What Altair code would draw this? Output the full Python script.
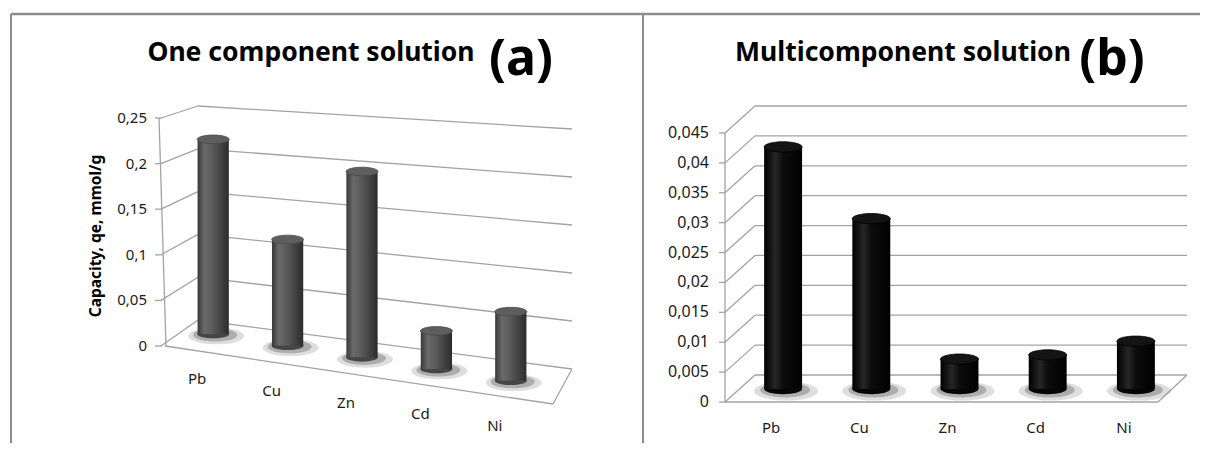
import altair as alt
import pandas as pd

# ---------------- data ----------------
metals = ["Pb", "Cu", "Zn", "Cd", "Ni"]
one_component = [0.22, 0.12, 0.21, 0.043, 0.078]
multi_component = [0.0405, 0.0285, 0.005, 0.0057, 0.008]
ticks_a = [0.0, 0.05, 0.10, 0.15, 0.20, 0.25]
tick_labels_a = ["0", "0,05", "0,1", "0,15", "0,2", "0,25"]
ticks_b = [0.0, 0.005, 0.01, 0.015, 0.02, 0.025, 0.03, 0.035, 0.04, 0.045]
tick_labels_b = ["0", "0,005", "0,01", "0,015", "0,02", "0,025", "0,03", "0,035", "0,04", "0,045"]
titles = ["One component solution", "Multicomponent solution"]
tags = ["(a)", "(b)"]
y_title_a = "Capacity, qe, mmol/g"

FONT = "Noto Sans"
GRID = "#a3a3a3"
FRAME = "#8c8c8c"
ELL = "M -1 0 A 1 0.27 0 1 0 1 0 A 1 0.27 0 1 0 -1 0 Z"
SHAD = "M -1 0 A 1 0.3 0 1 0 1 0 A 1 0.3 0 1 0 -1 0 Z"
one = pd.DataFrame({"k": [0]})


def grad(stops):
    return alt.LinearGradient(
        gradient="linear", x1=0, x2=1, y1=0, y2=0,
        stops=[alt.GradientStop(color=c, offset=o) for o, c in stops],
    )


# ---------------- panel (a) ----------------
ya = alt.Scale(domain=[0, 0.25], range=[338, 110], nice=False, zero=False)
xa = alt.Scale(domain=metals, range=[168, 540], paddingInner=0.58, paddingOuter=0.29)
dfa = pd.DataFrame({"metal": metals, "q": one_component, "i": list(range(len(metals)))})
ta = pd.DataFrame({"t": ticks_a, "label": tick_labels_a})

ga = (alt.Chart(ta)
      .transform_calculate(vl="(26 + 856*datum.t)/912")
      .transform_calculate(vr="(-23 + 960*datum.t)/912"))
back_a = ga.mark_rule(color=GRID, strokeWidth=1.3).encode(
    x=alt.value(190), x2=alt.value(564),
    y=alt.Y("vl:Q", scale=ya, axis=None), y2="vr:Q")
diag_a = ga.mark_rule(color=GRID, strokeWidth=1.3).encode(
    x=alt.value(153), x2=alt.value(190),
    y=alt.Y("t:Q", scale=ya, axis=None), y2="vl:Q")
tick_a = ga.mark_rule(color=GRID, strokeWidth=1.3).encode(
    x=alt.value(147), x2=alt.value(154),
    y=alt.Y("t:Q", scale=ya, axis=None), y2="t:Q")
lab_a = ga.mark_text(font=FONT, fontSize=15, align="right", baseline="middle", color="#1a1a1a").encode(
    x=alt.value(139), y=alt.Y("t:Q", scale=ya, axis=None), text="label:N")
axis_a = alt.Chart(one).mark_rule(color=GRID, strokeWidth=1.3).encode(
    x=alt.value(151), x2=alt.value(158),
    y=alt.Y(datum=0.25, scale=ya, axis=None), y2=alt.Y2(datum=0))
floor_front_a = alt.Chart(one).mark_rule(color=GRID, strokeWidth=1.3).encode(
    x=alt.value(157), x2=alt.value(545),
    y=alt.Y(datum=0, scale=ya, axis=None), y2=alt.Y2(datum=-0.0636))
floor_right_a = alt.Chart(one).mark_rule(color=GRID, strokeWidth=1.3).encode(
    x=alt.value(545), x2=alt.value(564),
    y=alt.Y(datum=-0.0636, scale=ya, axis=None), y2=alt.Y2(datum=-0.0252))

ba = (alt.Chart(dfa)
      .transform_calculate(base="0.0132 - 0.0128*datum.i")
      .transform_calculate(top="datum.base + 0.97*datum.q")
      .transform_calculate(lab="-0.0362 - 0.01294*datum.i"))
xenc_a = alt.X("metal:N", scale=xa, axis=None)
shadow_a1 = ba.mark_point(shape=SHAD, filled=True, size=56 ** 2, color="#a0a0a0", opacity=0.35,
                          strokeWidth=0, xOffset=3, yOffset=2).encode(
    x=xenc_a, y=alt.Y("base:Q", scale=ya, axis=None))
shadow_a2 = ba.mark_point(shape=SHAD, filled=True, size=44 ** 2, color="#707070", opacity=0.45,
                          strokeWidth=0, xOffset=2, yOffset=1).encode(
    x=xenc_a, y=alt.Y("base:Q", scale=ya, axis=None))
bottom_a = ba.mark_point(shape=ELL, filled=True, size=32 ** 2, color="#454545", opacity=1,
                         strokeWidth=0).encode(
    x=xenc_a, y=alt.Y("base:Q", scale=ya, axis=None))
bar_a = ba.mark_bar(color=grad([(0, "#383838"), (0.22, "#6a6a6a"), (0.45, "#5c5c5c"), (1, "#2c2c2c")])).encode(
    x=xenc_a, y=alt.Y("top:Q", scale=ya, axis=None), y2="base:Q")
cap_a = ba.mark_point(shape=ELL, filled=True, size=32 ** 2, color="#5e5e5e", opacity=1,
                      stroke="#4a4a4a", strokeWidth=0.8).encode(
    x=xenc_a, y=alt.Y("top:Q", scale=ya, axis=None))
cat_a = ba.mark_text(font=FONT, fontSize=15, color="#1a1a1a", baseline="middle", dx=-16).encode(
    x=xenc_a, y=alt.Y("lab:Q", scale=ya, axis=None), text="metal:N")

title_a = alt.Chart(one).mark_text(font=FONT, fontSize=26.5, fontWeight="bold", color="#000").encode(
    x=alt.value(303), y=alt.value(45), text=alt.value(titles[0]))
tag_a = alt.Chart(one).mark_text(font=FONT, fontSize=50, fontWeight="bold", color="#000").encode(
    x=alt.value(513), y=alt.value(52), text=alt.value(tags[0]))
ytitle_a = alt.Chart(one).mark_text(font=FONT, fontSize=15.5, fontWeight="bold", color="#000",
                                    angle=270, baseline="middle").encode(
    x=alt.value(88), y=alt.value(228), text=alt.value(y_title_a))

panel_a = alt.layer(back_a, diag_a, tick_a, axis_a, floor_front_a, floor_right_a, lab_a,
                    shadow_a1, shadow_a2, bottom_a, bar_a, cap_a, cat_a)

# ---------------- panel (b) ----------------
yb = alt.Scale(domain=[0, 0.045], range=[394, 125], nice=False, zero=False)
xb = alt.Scale(domain=metals, range=[719, 1160], paddingInner=0.57, paddingOuter=0.285)
dfb = pd.DataFrame({"metal": metals, "q": multi_component})
tb = pd.DataFrame({"t": ticks_b, "label": tick_labels_b})

gb = alt.Chart(tb)
back_b = gb.mark_rule(color=GRID, strokeWidth=1.3, yOffset=-27, y2Offset=-27).encode(
    x=alt.value(747), x2=alt.value(1179),
    y=alt.Y("t:Q", scale=yb, axis=None), y2="t:Q")
diag_b = gb.mark_rule(color=GRID, strokeWidth=1.3, y2Offset=-27).encode(
    x=alt.value(717), x2=alt.value(747),
    y=alt.Y("t:Q", scale=yb, axis=None), y2="t:Q")
tick_b = gb.mark_rule(color=GRID, strokeWidth=1.3).encode(
    x=alt.value(711), x2=alt.value(717),
    y=alt.Y("t:Q", scale=yb, axis=None), y2="t:Q")
lab_b = gb.mark_text(font=FONT, fontSize=16, align="right", baseline="middle", color="#1a1a1a").encode(
    x=alt.value(701), y=alt.Y("t:Q", scale=yb, axis=None), text="label:N")
axis_b = alt.Chart(one).mark_rule(color=GRID, strokeWidth=1.3).encode(
    x=alt.value(717),
    y=alt.Y(datum=0.045, scale=yb, axis=None), y2=alt.Y2(datum=0))
floor_front_b = alt.Chart(one).mark_rule(color=GRID, strokeWidth=1.3).encode(
    x=alt.value(717), x2=alt.value(1150),
    y=alt.Y(datum=0, scale=yb, axis=None), y2=alt.Y2(datum=0))
floor_right_b = alt.Chart(one).mark_rule(color=GRID, strokeWidth=1.3, y2Offset=-27).encode(
    x=alt.value(1150), x2=alt.value(1179),
    y=alt.Y(datum=0, scale=yb, axis=None), y2=alt.Y2(datum=0))

bb = alt.Chart(dfb)
xenc_b = alt.X("metal:N", scale=xb, axis=None)
shadow_b1 = bb.mark_point(shape=SHAD, filled=True, size=64 ** 2, color="#a0a0a0", opacity=0.35,
                          strokeWidth=0, xOffset=15, yOffset=-11).encode(
    x=xenc_b, y=alt.Y(datum=0, scale=yb, axis=None))
shadow_b2 = bb.mark_point(shape=SHAD, filled=True, size=50 ** 2, color="#707070", opacity=0.45,
                          strokeWidth=0, xOffset=14, yOffset=-12).encode(
    x=xenc_b, y=alt.Y(datum=0, scale=yb, axis=None))
bottom_b = bb.mark_point(shape=ELL, filled=True, size=38 ** 2, color="#050505", opacity=1,
                         strokeWidth=0, xOffset=12, yOffset=-13).encode(
    x=xenc_b, y=alt.Y(datum=0, scale=yb, axis=None))
bar_b = bb.mark_bar(color=grad([(0, "#000000"), (0.3, "#262626"), (0.5, "#0c0c0c"), (1, "#000000")]),
                    xOffset=12, x2Offset=12, yOffset=-13, y2Offset=-13).encode(
    x=xenc_b, y=alt.Y("q:Q", scale=yb, axis=None), y2=alt.Y2(datum=0))
cap_b = bb.mark_point(shape=ELL, filled=True, size=38 ** 2, color="#141414", opacity=1,
                      stroke="#000", strokeWidth=0.8, xOffset=12, yOffset=-13).encode(
    x=xenc_b, y=alt.Y("q:Q", scale=yb, axis=None))
cat_b = bb.mark_text(font=FONT, fontSize=15, color="#1a1a1a", baseline="middle", yOffset=26).encode(
    x=xenc_b, y=alt.Y(datum=0, scale=yb, axis=None), text="metal:N")

title_b = alt.Chart(one).mark_text(font=FONT, fontSize=26.5, fontWeight="bold", color="#000").encode(
    x=alt.value(895), y=alt.value(45), text=alt.value(titles[1]))
tag_b = alt.Chart(one).mark_text(font=FONT, fontSize=50, fontWeight="bold", color="#000").encode(
    x=alt.value(1104), y=alt.value(52), text=alt.value(tags[1]))

panel_b = alt.layer(back_b, diag_b, tick_b, axis_b, floor_front_b, floor_right_b, lab_b,
                    shadow_b1, shadow_b2, bottom_b, bar_b, cap_b, cat_b)

# ---------------- frame ----------------
frame_top = alt.Chart(one).mark_rule(color=FRAME, strokeWidth=2.5).encode(
    x=alt.value(3), x2=alt.value(1200), y=alt.value(6))
frame_left = alt.Chart(one).mark_rule(color=FRAME, strokeWidth=2).encode(
    x=alt.value(3), y=alt.value(6), y2=alt.value(443))
frame_mid = alt.Chart(one).mark_rule(color=FRAME, strokeWidth=2).encode(
    x=alt.value(635), y=alt.value(6), y2=alt.value(443))

chart = (
    alt.layer(panel_a, panel_b, frame_top, frame_left, frame_mid,
              title_a, tag_a, ytitle_a, title_b, tag_b)
    .resolve_scale(x="independent", y="independent")
    .properties(width=1192, height=435, padding=0, background="white",
                autosize=alt.AutoSizeParams(type="none"))
    .configure_view(strokeWidth=0)
)

chart.save("out.html", embed_options={"renderer": "svg", "actions": False})
